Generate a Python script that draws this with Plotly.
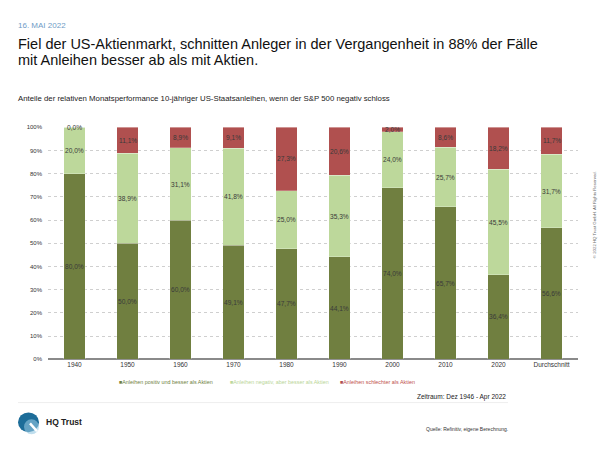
import plotly.graph_objects as go

categories = ["1940", "1950", "1960", "1970", "1980", "1990", "2000", "2010", "2020", "Durchschnitt"]
pos_better = [80.0, 50.0, 60.0, 49.1, 47.7, 44.1, 74.0, 65.7, 36.4, 56.6]
neg_better = [20.0, 38.9, 31.1, 41.8, 25.0, 35.3, 24.0, 25.7, 45.5, 31.7]
worse = [0.0, 11.1, 8.9, 9.1, 27.3, 20.6, 2.0, 8.6, 18.2, 11.7]
series_names = ["Anleihen positiv und besser als Aktien",
                "Anleihen negativ, aber besser als Aktien",
                "Anleihen schlechter als Aktien"]
y_ticks = list(range(0, 101, 10))

colors = ["#707F40", "#BDD89B", "#B0504F"]
legend_text_colors = ["#6f7f3f", "#b9d597", "#c0504d"]
FONT = "Liberation Sans, Arial, sans-serif"

W, H = 600, 450
def px(x):
    return x / W
def py(y):
    return 1 - y / H

fig = go.Figure()
series = [pos_better, neg_better, worse]
for vals, name, col in zip(series, series_names, colors):
    fig.add_trace(go.Bar(
        x=categories, y=vals, name=name,
        marker=dict(color=col, line=dict(color="rgba(255,255,255,0.5)", width=0.5)),
        hoverinfo="skip",
    ))

def fmt(v):
    return f"{v:.1f}".replace(".", ",") + "%"

annotations = []
for i, cat in enumerate(categories):
    base = 0
    for vals in series:
        v = vals[i]
        annotations.append(dict(
            x=i, y=base + v / 2, xref="x", yref="y", text=fmt(v), showarrow=False,
            font=dict(family=FONT, size=6.6, color="#3a3a3a"), xanchor="center", yanchor="middle"))
        base += v

# Manual legend (small square markers, coloured text)
legend_x = [117, 228, 338]
for name, col, tcol, lx in zip(series_names, colors, legend_text_colors, legend_x):
    annotations.append(dict(
        x=px(lx), y=py(384), xref="paper", yref="paper", showarrow=False,
        xanchor="left", yanchor="middle",
        text=f'<span style="color:{col}">■</span><span style="color:{tcol}">{name}</span>',
        font=dict(family=FONT, size=5.4, color=tcol)))

# Header / footer texts
annotations += [
    dict(x=px(16), y=py(23), xref="paper", yref="paper", text="16. MAI 2022", showarrow=False,
         xanchor="left", yanchor="middle", font=dict(family=FONT, size=8, color="#6f9cc6")),
    dict(x=px(16), y=py(41.5), xref="paper", yref="paper",
         text="Fiel der US-Aktienmarkt, schnitten Anleger in der Vergangenheit in 88% der Fälle",
         showarrow=False, xanchor="left", yanchor="middle", font=dict(family=FONT, size=14.5, color="#111")),
    dict(x=px(16), y=py(57.5), xref="paper", yref="paper",
         text="mit Anleihen besser ab als mit Aktien.",
         showarrow=False, xanchor="left", yanchor="middle", font=dict(family=FONT, size=14.5, color="#111")),
    dict(x=px(16), y=py(97), xref="paper", yref="paper",
         text="Anteile der relativen Monatsperformance 10-jähriger US-Staatsanleihen, wenn der S&P 500 negativ schloss",
         showarrow=False, xanchor="left", yanchor="middle", font=dict(family=FONT, size=7.8, color="#222")),
    dict(x=px(508), y=py(399), xref="paper", yref="paper", text="Zeitraum: Dez 1946 - Apr 2022",
         showarrow=False, xanchor="right", yanchor="middle", font=dict(family=FONT, size=6.5, color="#222")),
    dict(x=px(44), y=py(425), xref="paper", yref="paper", text="<b>HQ Trust</b>",
         showarrow=False, xanchor="left", yanchor="middle", font=dict(family=FONT, size=8.5, color="#222")),
    dict(x=px(510), y=py(432), xref="paper", yref="paper", text="Quelle: Refinitiv, eigene Berechnung.",
         showarrow=False, xanchor="right", yanchor="middle", font=dict(family=FONT, size=5, color="#333")),
    dict(x=px(594), y=py(215), xref="paper", yref="paper", text="© 2022 HQ Trust GmbH. All Rights Reserved.",
         showarrow=False, xanchor="center", yanchor="middle", textangle=-90,
         font=dict(family=FONT, size=4.3, color="#666")),
]

shapes = [
    dict(type="line", xref="paper", yref="paper", x0=px(18), x1=px(508), y0=py(405), y1=py(405),
         line=dict(color="#eeeeee", width=1)),
    dict(type="circle", xref="paper", yref="paper", x0=px(18), x1=px(39), y0=py(435), y1=py(415),
         fillcolor="#1d6d99", line=dict(width=0)),
    dict(type="circle", xref="paper", yref="paper", x0=px(24), x1=px(39), y0=py(437), y1=py(422),
         fillcolor="rgba(150,200,225,0.6)", line=dict(width=0)),
    dict(type="line", xref="paper", yref="paper", x0=px(30), x1=px(37), y0=py(426), y1=py(434),
         line=dict(color="white", width=2.5)),
]

fig.update_layout(
    width=W, height=H,
    margin=dict(l=0, r=0, t=0, b=0),
    paper_bgcolor="white", plot_bgcolor="white",
    barmode="stack", bargap=0.6,
    font=dict(family=FONT, color="#333"),
    showlegend=False,
    annotations=annotations,
    shapes=shapes,
    xaxis=dict(domain=[px(48), px(578)], range=[-0.5, 9.5], type="category",
               tickfont=dict(family=FONT, size=6.5, color="#333"), ticks="", showline=False,
               showgrid=False, fixedrange=True),
    yaxis=dict(domain=[py(361), py(126)], range=[0, 100], tickvals=y_ticks,
               ticktext=[f"{t}%" for t in y_ticks], tickfont=dict(family=FONT, size=6, color="#333"),
               showgrid=True, gridcolor="#cfcfcf", griddash="dot", gridwidth=0.8,
               zeroline=True, zerolinecolor="#8a8a8a", zerolinewidth=2,
               ticks="", ticklen=0, ticklabelstandoff=5, fixedrange=True),
)

fig.write_html("out.html", config={"displayModeBar": False},
               post_script="document.body.style.margin='0';document.body.style.padding='0';")
